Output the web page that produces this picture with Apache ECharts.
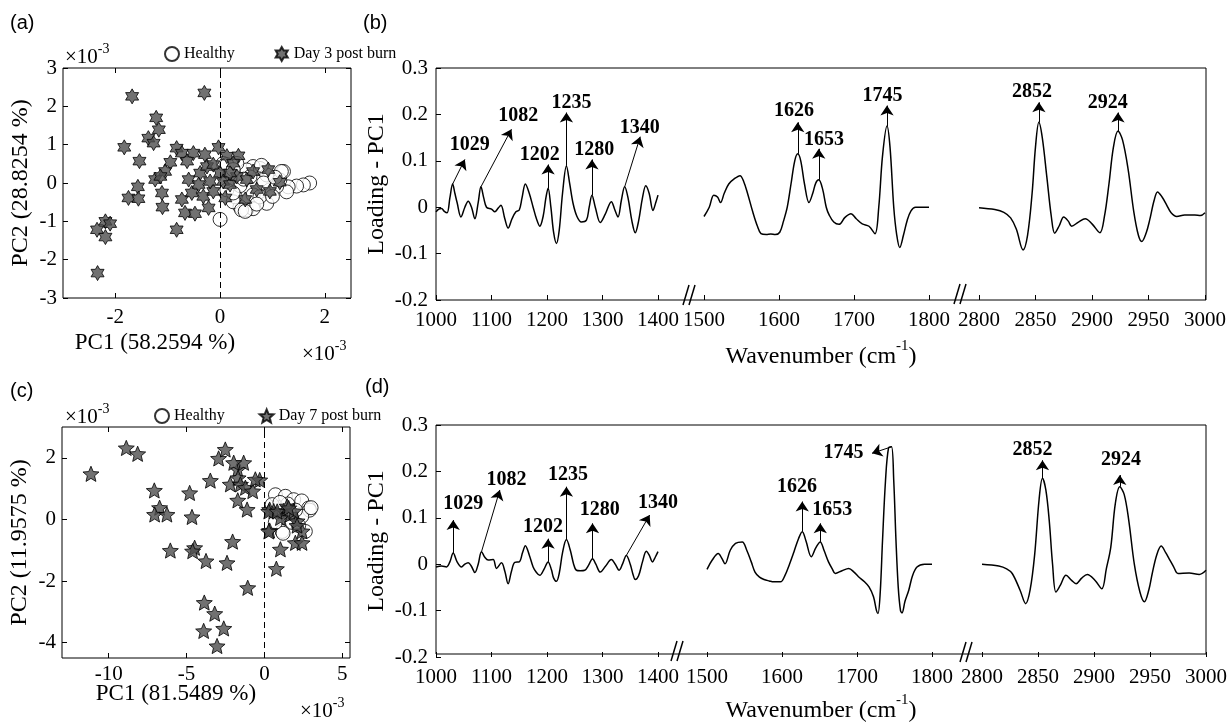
<!DOCTYPE html>
<html><head><meta charset="utf-8">
<script src="https://cdn.jsdelivr.net/npm/echarts@6/dist/echarts.min.js"></script>
<style>html,body{margin:0;padding:0;background:#fff}#c{width:1230px;height:724px}</style>
</head><body><div id="c"></div>
<script>
// ---------------- DATA ----------------
// Panel (a): PCA scores (x10^-3)
const aHealthy = [[0,-0.95],[1.21,0.30],[1.71,0.00],[1.59,-0.05],[1.46,-0.08],[1.30,-0.10],[1.27,-0.23],[0.76,0.38],[0.63,0.43],[0.51,0.34],[0.38,-0.62],[0.51,-0.70],[0.63,-0.67],[0.89,-0.53],[0.95,-0.18],[1.08,-0.09],[0.29,-0.36],[0.19,0.25],[0.06,0.51],[0.38,-0.07],[0.63,-0.31],[0.76,-0.36],[0.25,-0.49],[0.13,-0.18],[0.89,0.21],[1.14,0.08],[0.57,0.16],[0.32,0.51],[0.83,0.00],[0.13,0.48],[0.25,0.35],[0.41,-0.70],[0.48,-0.74],[1.17,0.30],[0.79,0.46],[0.25,-0.26],[1.00,-0.35],[0.70,-0.55],[0.45,0.10],[1.05,0.15]];
const aDay3 = [[-1.68,2.26],[-0.30,2.35],[-1.22,1.70],[-1.17,1.39],[-1.37,1.17],[-1.27,1.04],[-1.83,0.93],[-1.54,0.57],[-0.83,0.91],[-0.73,0.78],[-0.51,0.78],[-0.03,0.93],[-0.29,0.74],[-0.95,0.54],[-0.63,0.57],[-1.05,0.30],[-1.24,0.09],[-1.14,0.17],[-1.57,-0.10],[-1.75,-0.39],[-1.56,-0.41],[-1.11,-0.26],[-1.10,-0.63],[-0.73,-0.43],[-0.54,-0.26],[-0.60,0.09],[-0.38,0.26],[-0.25,0.43],[-0.13,0.48],[-0.67,-0.78],[-0.48,-0.80],[-0.83,-1.22],[-0.32,-0.35],[-0.22,-0.65],[-0.13,-0.22],[0.00,0.26],[0.13,0.70],[0.06,0.04],[0.19,-0.04],[0.10,-0.39],[0.35,0.71],[0.32,0.17],[0.51,0.09],[0.63,0.30],[0.70,-0.17],[0.48,-0.43],[0.92,0.35],[0.95,-0.22],[1.14,0.02],[-2.35,-1.22],[-2.19,-1.00],[-2.10,-1.06],[-2.19,-1.41],[-2.34,-2.35],[0.19,0.26],[0.25,0.52],[-0.19,0.04],[-0.41,-0.04]];
// Panel (c): PCA scores (x10^-3)
const cHealthy = [[0.71,0.80],[1.35,0.75],[1.88,0.64],[2.40,0.60],[2.85,0.37],[2.90,0.30],[1.14,-0.39],[1.20,-0.45],[2.40,0.10],[2.63,-0.39],[0.50,0.48],[0.92,0.20],[1.50,0.50],[2.00,0.30],[1.80,-0.10],[0.70,-0.10],[3.00,0.38],[1.60,0.20],[2.20,-0.20],[1.00,0.55]];
const cDay7 = [[-11.14,1.48],[-8.87,2.32],[-8.14,2.13],[-7.07,0.94],[-6.73,0.38],[-7.05,0.16],[-6.26,0.16],[-6.04,-1.01],[-4.80,0.86],[-4.65,0.08],[-4.48,-0.92],[-4.61,-1.03],[-3.75,-1.35],[-3.47,1.26],[-2.94,1.98],[-2.51,2.27],[-2.40,-1.41],[-2.04,-0.72],[-2.19,1.14],[-1.71,1.62],[-1.33,1.84],[-1.69,1.35],[-1.54,1.14],[-1.22,1.03],[-1.71,0.62],[-1.11,0.32],[-0.75,0.92],[-0.30,1.28],[-1.07,-2.22],[-3.86,-2.70],[-3.19,-3.06],[-2.61,-3.54],[-3.90,-3.62],[-3.04,-4.11],[0.34,0.32],[0.34,-0.36],[1.03,-0.97],[0.77,-1.60],[0.60,0.27],[1.24,0.27],[1.67,0.16],[2.10,-0.05],[1.99,-0.76],[2.42,-0.76],[2.42,-0.38],[1.46,0.43],[1.89,0.27],[1.03,0.05],[-0.58,1.30],[-1.97,1.84],[0.28,0.26],[0.82,0.26],[1.56,0.37],[0.28,-0.39],[2.10,-0.20]];

// Panel (b): PC1 loading, three wavenumber windows
const bLoad1 = [[1000,-0.010],[1005,-0.004],[1010,-0.003],[1015,-0.009],[1020,-0.012],[1025,0.020],[1030,0.050],[1034,0.030],[1038,0.010],[1045,-0.021],[1052,0.000],[1058,0.013],[1064,0.000],[1070,-0.025],[1076,0.010],[1081,0.044],[1086,0.020],[1091,0.000],[1100,-0.004],[1106,-0.010],[1112,-0.002],[1117,0.004],[1124,-0.025],[1130,-0.045],[1137,-0.025],[1144,-0.010],[1150,-0.006],[1155,0.020],[1161,0.050],[1168,0.030],[1175,0.000],[1181,-0.025],[1187,-0.041],[1193,-0.020],[1198,0.020],[1202,0.041],[1207,0.000],[1212,-0.055],[1217,-0.078],[1222,-0.050],[1228,0.030],[1235,0.089],[1241,0.050],[1247,0.008],[1254,-0.020],[1262,-0.032],[1271,-0.028],[1276,0.000],[1281,0.026],[1287,0.000],[1296,-0.033],[1305,-0.015],[1316,0.012],[1322,-0.005],[1328,-0.021],[1334,0.015],[1340,0.044],[1346,0.020],[1353,-0.030],[1359,-0.055],[1365,-0.030],[1372,0.020],[1378,0.046],[1384,0.030],[1391,-0.007],[1396,0.010],[1400,0.026]];
const bLoad2 = [[1500,-0.020],[1507,0.000],[1513,0.026],[1518,0.022],[1522,0.010],[1527,0.030],[1533,0.050],[1541,0.062],[1548,0.068],[1553,0.055],[1558,0.030],[1565,-0.010],[1571,-0.040],[1576,-0.057],[1583,-0.059],[1589,-0.058],[1595,-0.059],[1601,-0.054],[1606,-0.030],[1611,0.000],[1616,0.050],[1621,0.100],[1625,0.115],[1629,0.100],[1634,0.050],[1640,0.010],[1645,0.030],[1649,0.052],[1653,0.059],[1658,0.040],[1663,0.000],[1667,-0.017],[1673,-0.032],[1680,-0.037],[1688,-0.022],[1696,-0.014],[1703,-0.025],[1711,-0.036],[1720,-0.041],[1728,-0.057],[1733,0.000],[1738,0.110],[1744,0.175],[1748,0.130],[1753,0.000],[1757,-0.060],[1761,-0.087],[1766,-0.060],[1771,-0.028],[1776,-0.008],[1782,0.000],[1790,0.000],[1800,0.000]];
const bLoad3 = [[2800,-0.001],[2814,-0.005],[2822,-0.011],[2828,-0.023],[2833,-0.047],[2839,-0.092],[2843,-0.060],[2847,0.030],[2850,0.130],[2853,0.183],[2856,0.150],[2860,0.066],[2864,-0.020],[2867,-0.056],[2871,-0.040],[2875,-0.021],[2879,-0.030],[2882,-0.041],[2888,-0.032],[2894,-0.025],[2900,-0.036],[2907,-0.055],[2911,-0.020],[2915,0.050],[2919,0.130],[2923,0.164],[2927,0.145],[2932,0.081],[2937,-0.010],[2941,-0.060],[2944,-0.074],[2948,-0.055],[2951,-0.028],[2955,0.015],[2958,0.033],[2962,0.022],[2966,0.005],[2970,-0.012],[2975,-0.020],[2982,-0.017],[2991,-0.017],[2996,-0.018],[3000,-0.012]];
// Panel (d)
const dLoad1 = [[1000,-0.006],[1010,-0.004],[1019,-0.006],[1025,0.005],[1031,0.024],[1038,0.005],[1046,-0.006],[1052,0.000],[1058,0.003],[1064,-0.005],[1070,-0.018],[1076,0.000],[1082,0.027],[1088,0.015],[1094,0.009],[1103,0.010],[1109,-0.009],[1118,0.003],[1124,-0.015],[1130,-0.042],[1136,-0.015],[1142,0.004],[1150,0.005],[1156,0.025],[1161,0.040],[1168,0.020],[1175,-0.006],[1181,-0.018],[1187,-0.024],[1195,-0.010],[1202,0.005],[1208,-0.012],[1212,-0.030],[1217,-0.037],[1222,-0.020],[1228,0.025],[1235,0.053],[1242,0.030],[1248,0.000],[1253,-0.013],[1260,-0.014],[1268,-0.013],[1275,-0.002],[1282,0.012],[1288,0.000],[1296,-0.017],[1305,-0.005],[1316,0.010],[1323,0.000],[1330,-0.013],[1336,0.000],[1343,0.019],[1350,0.000],[1355,-0.022],[1359,-0.033],[1365,-0.025],[1372,0.005],[1379,0.028],[1384,0.020],[1390,0.005],[1395,0.015],[1400,0.027]];
const dLoad2 = [[1500,-0.011],[1507,0.009],[1515,0.023],[1520,0.012],[1524,0.001],[1531,0.030],[1538,0.045],[1547,0.048],[1553,0.030],[1559,0.005],[1564,-0.017],[1570,-0.028],[1576,-0.033],[1583,-0.036],[1589,-0.038],[1598,-0.038],[1604,-0.024],[1610,0.000],[1616,0.027],[1622,0.055],[1627,0.070],[1632,0.050],[1639,0.016],[1645,0.035],[1651,0.048],[1656,0.030],[1662,0.005],[1667,-0.010],[1671,-0.020],[1680,-0.014],[1689,-0.009],[1696,-0.017],[1702,-0.027],[1710,-0.038],[1716,-0.049],[1722,-0.070],[1726,-0.100],[1728,-0.106],[1731,-0.060],[1734,0.050],[1738,0.180],[1742,0.250],[1746,0.253],[1749,0.180],[1752,0.050],[1755,-0.050],[1758,-0.100],[1760,-0.105],[1764,-0.080],[1769,-0.056],[1774,-0.025],[1780,-0.006],[1790,0.000],[1800,0.000]];
const dLoad3 = [[2800,0.000],[2815,-0.004],[2822,-0.010],[2827,-0.020],[2834,-0.056],[2839,-0.085],[2843,-0.055],[2847,0.020],[2851,0.140],[2854,0.185],[2857,0.160],[2860,0.095],[2863,0.000],[2866,-0.060],[2870,-0.045],[2875,-0.024],[2880,-0.035],[2884,-0.042],[2889,-0.030],[2894,-0.022],[2901,-0.035],[2907,-0.053],[2911,-0.010],[2915,0.037],[2919,0.130],[2923,0.167],[2927,0.150],[2931,0.095],[2936,0.000],[2941,-0.060],[2945,-0.081],[2949,-0.055],[2952,-0.020],[2956,0.020],[2960,0.039],[2964,0.025],[2967,0.012],[2971,-0.005],[2975,-0.020],[2985,-0.019],[2994,-0.022],[3000,-0.013]];

// Peak annotations: label, arrow tail (on curve), arrow head, label centre (data coords)
const bPeakLabels = ['1029','1082','1202','1235','1280','1340','1626','1653','1745','2852','2924'];
const bArrowFrom = [[1030,0.050],[1081,0.044],[1202,0.041],[1235,0.089],[1281,0.026],[1340,0.044],[1625,0.115],[1653,0.059],[1744,0.175],[2853,0.183],[2923,0.164]];
const bArrowTo   = [[1052,0.103],[1136,0.168],[1202,0.092],[1235,0.204],[1281,0.103],[1368,0.152],[1625,0.183],[1653,0.126],[1744,0.219],[2853,0.226],[2923,0.204]];
const bLabelAt   = [[1061,0.135],[1148,0.197],[1187,0.112],[1244,0.226],[1285,0.124],[1367,0.172],[1620,0.208],[1660,0.146],[1738,0.241],[2847,0.248],[2914,0.226]];
const dPeakLabels = ['1029','1082','1202','1235','1280','1340','1626','1653','1745','2852','2924'];
const dArrowFrom = [[1031,0.024],[1082,0.027],[1202,0.005],[1235,0.053],[1282,0.012],[1343,0.019],[1627,0.070],[1651,0.048],[1746,0.253],[2854,0.185],[2923,0.167]];
const dArrowTo   = [[1031,0.095],[1115,0.160],[1202,0.055],[1235,0.167],[1282,0.088],[1385,0.106],[1627,0.135],[1651,0.088],[1720,0.239],[2854,0.224],[2923,0.192]];
const dLabelAt   = [[1049,0.131],[1127,0.181],[1193,0.081],[1238,0.192],[1295,0.117],[1400,0.132],[1620,0.167],[1667,0.117],[1682,0.239],[2845,0.246],[2924,0.224]];

// Axis ticks
const specRanges = [[1000,1400,100],[1500,1800,100],[2800,3000,50]];
const aXTicks = [-2,0,2];
const aYTicks = [-3,-2,-1,0,1,2,3];
const cXTicks = [-10,-5,0,5];
const cYTicks = [-4,-2,0,2];

// ---------------- CHART ----------------
const SERIF = 'Liberation Serif', SANS = 'Liberation Sans';
const HEX = 'path://M100,0L128.87,50L186.6,50L157.7,100L186.6,150L128.87,150L100,200L71.13,150L13.4,150L42.3,100L13.4,50L71.13,50Z';
const STAR5 = 'path://M100,0L126.45,63.6L195.1,69.1L142.8,113.9L158.8,180.9L100,145L41.2,180.9L57.2,113.9L4.9,69.1L73.55,63.6Z';

const grid = [], xAxis = [], yAxis = [], series = [];
const blk = {color:'#000', width:1};
const plain = v => String(Math.round(v*1000)/1000);
const noLine = {show:false, onZero:false};

function scatterPanel(g, xr, yr, xTicks, yTicks, yName, hData, sData, sName, sSym, sSize, xMargin) {
  const gi = grid.length;
  grid.push({left:g[0], top:g[1], width:g[2], height:g[3], show:true, borderColor:'#000', borderWidth:1, backgroundColor:'rgba(0,0,0,0)'});
  const tick = (vals)=>({show:true, inside:true, length:5, lineStyle:blk, customValues:vals});
  const xi = xAxis.length;
  xAxis.push({gridIndex:gi, type:'value', min:xr[0], max:xr[1], position:'bottom', axisLine:noLine, splitLine:{show:false},
    axisTick:tick(xTicks), axisLabel:{customValues:xTicks, formatter:plain, color:'#000', fontFamily:SERIF, fontSize:21, margin:xMargin}});
  xAxis.push({gridIndex:gi, type:'value', min:xr[0], max:xr[1], position:'top', axisLine:noLine, splitLine:{show:false},
    axisTick:tick(xTicks), axisLabel:{show:false}});
  const yi = yAxis.length;
  yAxis.push({gridIndex:gi, type:'value', min:yr[0], max:yr[1], position:'left', axisLine:noLine, splitLine:{show:false},
    axisTick:tick(yTicks), axisLabel:{customValues:yTicks, formatter:plain, color:'#000', fontFamily:SERIF, fontSize:21, margin:6},
    name:yName, nameLocation:'middle', nameGap:30, nameTextStyle:{color:'#000', fontFamily:SERIF, fontSize:24}});
  yAxis.push({gridIndex:gi, type:'value', min:yr[0], max:yr[1], position:'right', axisLine:noLine, splitLine:{show:false},
    axisTick:tick(yTicks), axisLabel:{show:false}});
  series.push({type:'scatter', name:'Healthy', xAxisIndex:xi, yAxisIndex:yi, data:hData, symbol:'circle', symbolSize:14,
    itemStyle:{color:'#fff', borderColor:'#000', borderWidth:1},
    markLine:{silent:true, symbol:['none','none'], label:{show:false}, lineStyle:{color:'#000', type:[6,4], width:1}, data:[{xAxis:0}]}});
  series.push({type:'scatter', name:sName, xAxisIndex:xi, yAxisIndex:yi, data:sData, symbol:sSym, symbolSize:sSize, symbolKeepAspect:true,
    itemStyle:{color:'#4d4d4d', borderColor:'#000', borderWidth:1}});
}

function spectraPanel(top, height, segs, right, loads, labels, from, to, at) {
  const gf = grid.length;
  grid.push({left:segs[0][0], top, width:right-segs[0][0], height, show:true, borderColor:'#000', borderWidth:1, backgroundColor:'rgba(0,0,0,0)'});
  xAxis.push({gridIndex:gf, type:'value', min:0, max:1, axisLine:noLine, axisTick:{show:false}, axisLabel:{show:false}, splitLine:{show:false},
    name:'{a|Wavenumber (cm}{s|-1}{a|)}', nameLocation:'middle', nameGap:39,
    nameTextStyle:{rich:{a:{color:'#000', fontFamily:SERIF, fontSize:24, lineHeight:30, verticalAlign:'bottom'}, s:{color:'#000', fontFamily:SERIF, fontSize:15, lineHeight:30, verticalAlign:'top'}}}});
  yAxis.push({gridIndex:gf, type:'value', show:false, min:0, max:1});
  for (let s = 0; s < 3; s++) {
    const gi = grid.length;
    grid.push({left:segs[s][0], top, width:segs[s][1], height});
    const xi = xAxis.length, yi = yAxis.length;
    const r = specRanges[s];
    xAxis.push({gridIndex:gi, type:'value', min:r[0], max:r[1], interval:r[2], axisLine:noLine, splitLine:{show:false},
      axisTick:{show:true, inside:true, length:5, lineStyle:blk},
      axisLabel:{formatter:plain, color:'#000', fontFamily:SERIF, fontSize:21, margin:10, showMinLabel:true, showMaxLabel:true, hideOverlap:false}});
    if (s === 0) {
      yAxis.push({gridIndex:gi, type:'value', min:-0.2, max:0.3, interval:0.1, axisLine:noLine, splitLine:{show:false},
        axisTick:{show:true, inside:true, length:5, lineStyle:blk},
        axisLabel:{formatter:plain, color:'#000', fontFamily:SERIF, fontSize:21, margin:8},
        name:'Loading - PC1', nameLocation:'middle', nameGap:47, nameTextStyle:{color:'#000', fontFamily:SERIF, fontSize:24}});
    } else {
      yAxis.push({gridIndex:gi, type:'value', min:-0.2, max:0.3, show:false});
    }
    const idx = labels.map((l,i)=>i).filter(i=>from[i][0]>=r[0] && from[i][0]<=r[1]);
    series.push({type:'line', xAxisIndex:xi, yAxisIndex:yi, data:loads[s], symbol:'none', showSymbol:false, smooth:0.35, clip:false,
      lineStyle:{color:'#000', width:1.5},
      markLine:{silent:true, symbol:['none','arrow'], symbolSize:10, label:{show:false}, lineStyle:{color:'#000', width:1, type:'solid'},
        data: idx.map(i=>[{coord:from[i]},{coord:to[i]}])},
      markPoint:{silent:true, symbol:'rect', symbolSize:1, itemStyle:{color:'rgba(0,0,0,0)'},
        label:{show:true, position:'inside', formatter:'{b}', color:'#000', fontFamily:SERIF, fontWeight:'bold', fontSize:20},
        data: idx.map(i=>({name:labels[i], coord:at[i]}))}});
  }
}

scatterPanel([63,68,288,230], [-3,2.5], [-3,3], aXTicks, aYTicks, 'PC2 (28.8254 %)', aHealthy, aDay3, 'Day 3 post burn', HEX, 15, 9);
scatterPanel([62,427,288,231], [-13,5.5], [-4.5,3], cXTicks, cYTicks, 'PC2 (11.9575 %)', cHealthy, cDay7, 'Day 7 post burn', STAR5, 16, 6);
spectraPanel(68, 232, [[436,222],[704,225],[979,226]], 1206, [bLoad1,bLoad2,bLoad3], bPeakLabels, bArrowFrom, bArrowTo, bLabelAt);
spectraPanel(425, 232, [[436,222],[707,225],[982,224]], 1206, [dLoad1,dLoad2,dLoad3], dPeakLabels, dArrowFrom, dArrowTo, dLabelAt);

function txt(x, y, t, size, fam, align) {
  return {type:'text', x, y, silent:true, style:{text:t, fill:'#000', font:size+'px "'+fam+'"', textAlign:align||'left', textVerticalAlign:'middle'}};
}
function sci(x, y) {
  return {type:'text', x, y, silent:true, style:{text:'{m|×10}{s|-3}', textVerticalAlign:'middle',
    rich:{m:{fill:'#000', fontFamily:SERIF, fontSize:21, lineHeight:26, verticalAlign:'bottom'}, s:{fill:'#000', fontFamily:SERIF, fontSize:14, lineHeight:26, verticalAlign:'top'}}}};
}
function brk(cx, cy) {
  return {type:'group', silent:true, children:[
    {type:'line', shape:{x1:cx-7, y1:cy+10, x2:cx-1, y2:cy-10}, style:{stroke:'#000', lineWidth:1.5}},
    {type:'line', shape:{x1:cx-1, y1:cy+10, x2:cx+5, y2:cy-10}, style:{stroke:'#000', lineWidth:1.5}}]};
}

const option = {
  animation:false,
  backgroundColor:'#fff',
  grid, xAxis, yAxis, series,
  legend:[
    {data:['Healthy','Day 3 post burn'], left:159, top:41, itemWidth:14, itemHeight:14, itemGap:40, selectedMode:false,
     textStyle:{color:'#000', fontFamily:SERIF, fontSize:16}},
    {data:['Healthy','Day 7 post burn'], left:149, top:403, itemWidth:14, itemHeight:14, itemGap:34, selectedMode:false,
     textStyle:{color:'#000', fontFamily:SERIF, fontSize:16}}
  ],
  graphic:[
    txt(10, 23, '(a)', 20, SANS), txt(363, 23, '(b)', 20, SANS), txt(10, 391, '(c)', 20, SANS), txt(365, 387, '(d)', 20, SANS),
    sci(65, 55), sci(302, 352), sci(65, 415), sci(300, 709),
    txt(155, 343, 'PC1 (58.2594 %)', 23, SERIF, 'center'),
    txt(176, 694, 'PC1 (81.5489 %)', 23, SERIF, 'center'),
    brk(690, 295), brk(961, 294), brk(678, 651), brk(967, 652)
  ]
};
const chart = echarts.init(document.getElementById('c'));
chart.setOption(option);
</script></body></html>
